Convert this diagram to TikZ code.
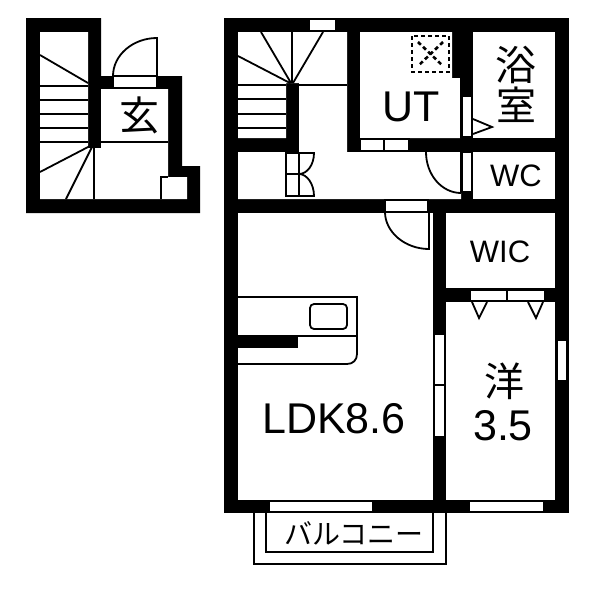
\documentclass[tikz,border=0pt]{standalone}
\usepackage{fontspec}
\setmainfont{Liberation Sans}
\newfontfamily\cjkfont{Noto Sans CJK JP}
\tikzset{
    wall/.style={fill=black},
    room/.style={fill=white},
    slot/.style={fill=white,draw=black,line width=1.2pt},
    thinline/.style={draw=black,line width=1.8pt},
    hatch/.style={draw=black,line width=2.6pt,dash pattern=on 4pt off 3pt},
    roomtext/.style={inner sep=0pt,text=black},
}
\newcommand{\fsize}[1]{\fontsize{#1}{#1}\selectfont}
\begin{document}
\begin{tikzpicture}[x=1pt,y=-1pt]
    \useasboundingbox (0,0) rectangle (600,600);
    \fill[white] (0,0) rectangle (600,600);

    % entrance floor
    \fill[wall] (26,18) -- (101,18) -- (101,76) -- (182,76) -- (182,166) -- (200,166) -- (200,213) -- (26,213) -- cycle;
    \fill[room] (40,32) -- (88,32) -- (88,148) -- (101,148) -- (101,89) -- (168,89) -- (168,177) -- (187,177) -- (187,199) -- (40,199) -- cycle;
    \draw[thinline] (161,199) -- (161,177) -- (168,177);
    \draw[slot] (113,76) rectangle (157,88);
    \draw[thinline] (157,76) -- (157,38) .. controls (133,38) and (113,55) .. (113,76);
    \draw[thinline] (40,55) -- (88,83);
    \draw[thinline] (40,86) -- (88,86);
    \draw[thinline] (40,100) -- (88,100);
    \draw[thinline] (40,114) -- (88,114);
    \draw[thinline] (40,128) -- (88,128);
    \draw[thinline] (40,142) -- (88,142);
    \draw[thinline] (101,142) -- (168,142);
    \draw[thinline] (90,146) -- (40,172);
    \draw[thinline] (92,147) -- (66,199);
    \draw[thinline] (94,148) -- (94,199);

    % upper floor walls and rooms
    \fill[wall] (224,18) rectangle (569,513);
    \fill[room] (238,32) -- (347,32) -- (347,152) -- (461,152) -- (461,199) -- (238,199) -- (238,152) -- (299,152) -- (299,83) -- (286,83) -- (286,138) -- (238,138) -- cycle;
    \fill[room] (360,32) -- (452,32) -- (452,78) -- (460,78) -- (460,138) -- (360,138) -- cycle;
    \fill[room] (473,32) rectangle (555,138);
    \fill[room] (473,152) rectangle (555,199);
    \fill[room] (238,213) rectangle (433,500);
    \fill[room] (446,213) rectangle (555,288);
    \fill[room] (446,302) rectangle (555,500);

    % windows and sliding doors
    \draw[slot] (309,19) rectangle (336,31);
    \draw[slot] (360,139) rectangle (384,151);
    \draw[slot] (384,139) rectangle (409,151);
    \draw[slot] (462,96) rectangle (472,137);
    \draw[slot] (462,152) rectangle (472,192);
    \draw[slot] (434,334) rectangle (445,385);
    \draw[slot] (434,385) rectangle (445,437);
    \draw[slot] (470,290) rectangle (507,301);
    \draw[slot] (507,290) rectangle (545,301);
    \draw[slot] (557,340) rectangle (567,381);
    \draw[slot] (269,501) rectangle (373,512);
    \draw[slot] (469,501) rectangle (544,512);

    % stairs
    \draw[thinline] (238,56) -- (290,83);
    \draw[thinline] (261,32) -- (291,83);
    \draw[thinline] (292,32) -- (292,83);
    \draw[thinline] (323,32) -- (293,83);
    \draw[thinline] (238,85) -- (286,85);
    \draw[thinline] (299,85) -- (347,85);
    \draw[thinline] (238,99) -- (286,99);
    \draw[thinline] (238,114) -- (286,114);
    \draw[thinline] (238,128) -- (286,128);

    % doors
    \draw[slot] (286,153) rectangle (299,174);
    \draw[slot] (286,174) rectangle (299,196);
    \draw[thinline] (299,153) -- (314,153) .. controls (314,165) and (307,174) .. (299,174);
    \draw[thinline] (299,196) -- (314,196) .. controls (314,184) and (307,174) .. (299,174);
    \draw[slot] (385,200) rectangle (428,212);
    \draw[thinline] (429,212) -- (429,249) .. controls (405,249) and (385,232) .. (385,212);
    \draw[thinline] (426,152) .. controls (426,175) and (442,193) .. (461,193);
    \draw[thinline] (461,152) -- (461,193);
    \draw[thinline] (461,78) -- (461,138);
    \draw[thinline] (473,119) -- (492,127) -- (473,134);
    \draw[thinline] (472,302) -- (479,318) -- (487,302);
    \draw[thinline] (528,302) -- (536,318) -- (543,302);

    % washer pan
    \draw[hatch] (412,36) rectangle (449,72);
    \draw[hatch] (418,42) -- (443,66);
    \draw[hatch] (443,42) -- (418,66);

    % kitchen
    \draw[thinline] (238,297) -- (357,297) -- (357,354) .. controls (357,360) and (353,364) .. (347,364) -- (238,364);
    \draw[thinline] (238,336) -- (357,336);
    \fill[wall] (238,335) rectangle (298,348);
    \draw[thinline,rounded corners=4pt] (310,304) rectangle (347,329);

    % balcony
    \draw[thinline] (254,513) -- (254,564) -- (446,564) -- (446,513);
    \draw[thinline] (266,513) -- (266,552) -- (433,552) -- (433,513);

    \node[roomtext] (genkan) at (139,115) {\cjkfont\fsize{40}玄};
    \node[roomtext] (bathtop) at (516,65) {\cjkfont\fsize{41}浴};
    \node[roomtext] (bathbottom) at (516,105) {\cjkfont\fsize{40}室};
    \node[roomtext] (utility) at (411,107) {\fsize{43}UT};
    \node[roomtext] (toilet) at (516,176) {\fsize{31}WC};
    \node[roomtext] (closet) at (500,252) {\fsize{31}WIC};
    \node[roomtext] (ldk) at (334,419) {\fsize{43}LDK8.6};
    \node[roomtext] (westtop) at (504,381) {\cjkfont\fsize{40}洋};
    \node[roomtext] (westsize) at (503,426) {\fsize{43}3.5};
    \node[roomtext] (balcony) at (354,533) {\cjkfont\fsize{28}バルコニー};
\end{tikzpicture}
\end{document}
